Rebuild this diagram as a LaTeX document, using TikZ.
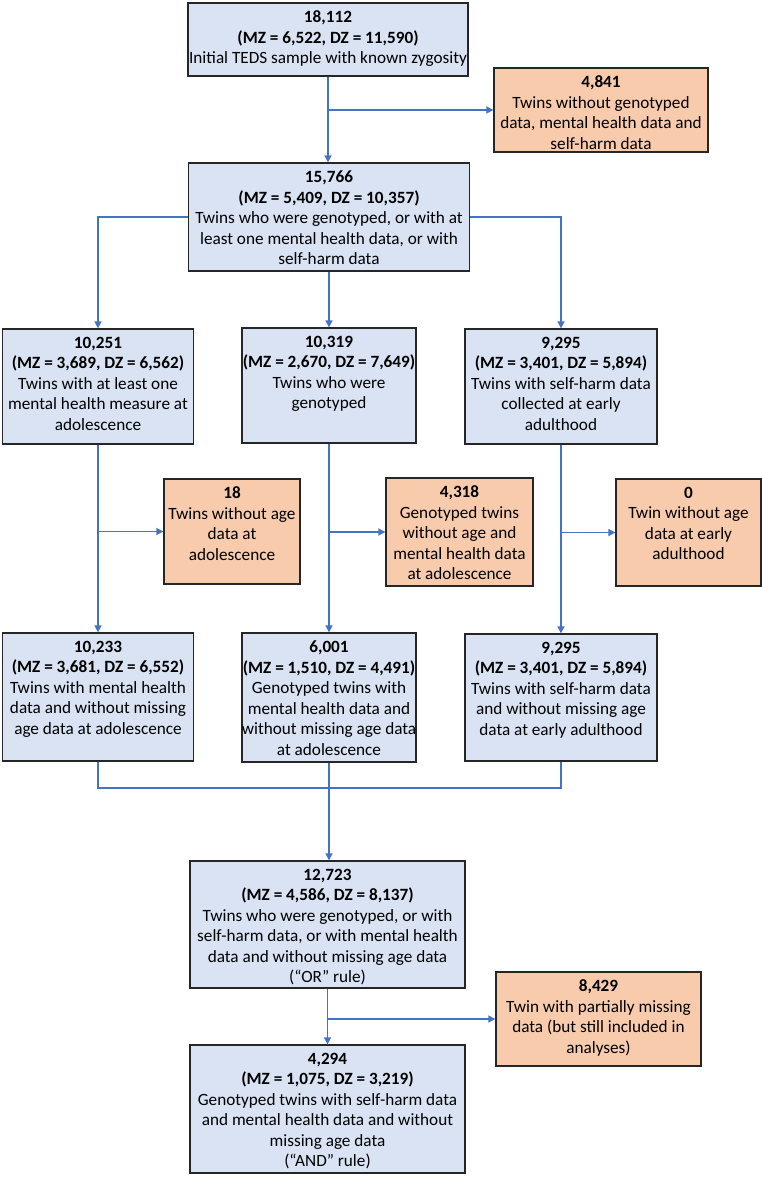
\documentclass[tikz,border=0pt]{standalone}
\usepackage{fontspec}
\setmainfont{Carlito}
\usetikzlibrary{arrows.meta}
\definecolor{boxblue}{HTML}{DAE3F3}
\definecolor{boxorange}{HTML}{F8CBAD}
\definecolor{flowblue}{HTML}{4472C4}
\tikzset{
  stage/.style={draw=black!85, line width=1.3pt, fill=boxblue, inner sep=0pt},
  excluded/.style={stage, fill=boxorange},
  boxtext/.style={anchor=north, align=center, inner sep=0pt, yshift=-8.5pt,
    font=\fontsize{17.2}{20.5}\selectfont},
  flow/.style={draw=flowblue, line width=1.6pt},
  arr/.style={flow, -{Triangle[length=7pt, width=7pt]}}
}
\begin{document}
\begin{tikzpicture}[x=1pt, y=-1pt]
      \useasboundingbox (0,0) rectangle (762,1178);

      % boxes
      \node[stage, minimum width=280pt, minimum height=73pt] (a) at (328,39.5) {};
      \node[excluded, minimum width=214pt, minimum height=84pt] (o1) at (601,110) {};
      \node[stage, minimum width=281pt, minimum height=108pt] (b) at (329,217) {};
      \node[stage, minimum width=191pt, minimum height=115pt] (c1) at (98,386.5) {};
      \node[stage, minimum width=174pt, minimum height=115pt] (c2) at (329,385.5) {};
      \node[stage, minimum width=192pt, minimum height=115pt] (c3) at (561,386.5) {};
      \node[excluded, minimum width=136pt, minimum height=105pt] (o2) at (232,531.5) {};
      \node[excluded, minimum width=147pt, minimum height=108pt] (o3) at (459.5,532) {};
      \node[excluded, minimum width=145pt, minimum height=107pt] (o4) at (688.5,532.5) {};
      \node[stage, minimum width=191pt, minimum height=128pt] (d1) at (98,697) {};
      \node[stage, minimum width=174pt, minimum height=129pt] (d2) at (329,697.5) {};
      \node[stage, minimum width=192pt, minimum height=127pt] (d3) at (561,697.5) {};
      \node[stage, minimum width=275pt, minimum height=127pt] (e) at (327.5,924.5) {};
      \node[excluded, minimum width=205pt, minimum height=94pt] (o5) at (598.5,1019) {};
      \node[stage, minimum width=275pt, minimum height=128pt] (f) at (327.5,1109) {};

      % texts
      \node[boxtext] (a-t) at (a.north) {\textbf{18,112}\\\textbf{(MZ = 6,522, DZ = 11,590)}\\Initial TEDS sample with known zygosity};
      \node[boxtext] (o1-t) at (o1.north) {\textbf{4,841}\\Twins without genotyped\\data, mental health data and\\self-harm data};
      \node[boxtext] (b-t) at (b.north) {\textbf{15,766}\\\textbf{(MZ = 5,409, DZ = 10,357)}\\Twins who were genotyped, or with at\\least one mental health data, or with\\self-harm data};
      \node[boxtext] (c1-t) at (c1.north) {\textbf{10,251}\\\textbf{(MZ = 3,689, DZ = 6,562)}\\Twins with at least one\\mental health measure at\\adolescence};
      \node[boxtext] (c2-t) at (c2.north) {\textbf{10,319}\\\textbf{(MZ = 2,670, DZ = 7,649)}\\Twins who were\\genotyped};
      \node[boxtext] (c3-t) at (c3.north) {\textbf{9,295}\\\textbf{(MZ = 3,401, DZ = 5,894)}\\Twins with self-harm data\\collected at early\\adulthood};
      \node[boxtext] (o2-t) at (o2.north) {\textbf{18}\\Twins without age\\data at\\adolescence};
      \node[boxtext] (o3-t) at (o3.north) {\textbf{4,318}\\Genotyped twins\\without age and\\mental health data\\at adolescence};
      \node[boxtext] (o4-t) at (o4.north) {\textbf{0}\\Twin without age\\data at early\\adulthood};
      \node[boxtext] (d1-t) at (d1.north) {\textbf{10,233}\\\textbf{(MZ = 3,681, DZ = 6,552)}\\Twins with mental health\\data and without missing\\age data at adolescence};
      \node[boxtext] (d2-t) at (d2.north) {\textbf{6,001}\\\textbf{(MZ = 1,510, DZ = 4,491)}\\Genotyped twins with\\mental health data and\\without missing age data\\at adolescence};
      \node[boxtext] (d3-t) at (d3.north) {\textbf{9,295}\\\textbf{(MZ = 3,401, DZ = 5,894)}\\Twins with self-harm data\\and without missing age\\data at early adulthood};
      \node[boxtext] (e-t) at (e.north) {\textbf{12,723}\\\textbf{(MZ = 4,586, DZ = 8,137)}\\Twins who were genotyped, or with\\self-harm data, or with mental health\\data and without missing age data\\(“OR” rule)};
      \node[boxtext] (o5-t) at (o5.north) {\textbf{8,429}\\Twin with partially missing\\data (but still included in\\analyses)};
      \node[boxtext] (f-t) at (f.north) {\textbf{4,294}\\\textbf{(MZ = 1,075, DZ = 3,219)}\\Genotyped twins with self-harm data\\and mental health data and without\\missing age data\\(“AND” rule)};

      % connectors
      \coordinate (m) at (329,788);

      \draw[arr] (a.south) -- (a.south |- b.north);
      \draw[arr] (a.south |- o1.west) -- (o1.west);
      \draw[arr] (b.west) -| (c1.north);
      \draw[arr] (c2.north |- b.south) -- (c2.north);
      \draw[arr] (b.east) -| (c3.north);

      \draw[arr] (c1.south) -- (d1.north);
      \draw[arr] (c2.south) -- (d2.north);
      \draw[arr] (c3.south) -- (d3.north);
      \draw[arr] (c1.south |- o2.west) -- (o2.west);
      \draw[arr] (c2.south |- o3.west) -- (o3.west);
      \draw[arr] (c3.south |- o4.west) -- (o4.west);

      \draw[flow] (d1.south) |- (m) -| (d3.south);
      \draw[arr] (d2.south) -- (d2.south |- e.north);
      \draw[arr] (e.south) -- (f.north);
      \draw[arr] (e.south |- o5.west) -- (o5.west);
\end{tikzpicture}
\end{document}
